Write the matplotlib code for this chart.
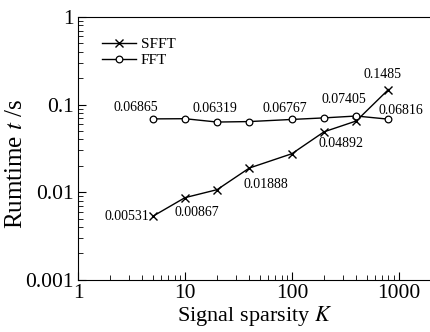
import matplotlib
matplotlib.use("Agg")
import matplotlib.pyplot as plt

plt.rcParams['font.family'] = ['Liberation Serif', 'DejaVu Serif']
plt.rcParams['mathtext.fontset'] = 'stix'

sparsity = [5, 10, 20, 40, 100, 200, 400, 800]
sfft_time = [0.00531, 0.00867, 0.0107, 0.01888, 0.0275, 0.04892, 0.0650, 0.1485]
fft_time = [0.06865, 0.0690, 0.06319, 0.0640, 0.06767, 0.0705, 0.07405, 0.06816]

# which points get a value label, and where (pixel offsets from the point)
sfft_labels = {0: (-4, 0, 'right'), 1: (12, -15, 'center'), 3: (17, -16, 'center'),
               5: (17, -12, 'center'), 7: (-6, 15, 'center')}
fft_labels = {0: (-17, 11, 'center'), 2: (-2, 14, 'center'), 4: (-7, 11, 'center'),
              6: (-12, 17, 'center'), 7: (12, 9, 'center')}

fig = plt.figure(figsize=(4.31, 3.32), dpi=100)
ax = fig.add_axes([0.181, 0.157, 0.819, 0.792])

ax.plot(sparsity, sfft_time, 'k-', marker='x', ms=6, mew=1.0, lw=1.0, label='SFFT')
ax.plot(sparsity, fft_time, 'k-', marker='o', ms=4.8, mfc='white', mew=0.9, lw=1.0, label='FFT')

ax.set_xscale('log')
ax.set_yscale('log')
ax.set_xlim(1, 2000)
ax.set_ylim(0.001, 1)
ax.set_xticks([1, 10, 100, 1000])
ax.set_xticklabels(['1', '10', '100', '1000'])
ax.set_yticks([0.001, 0.01, 0.1, 1])
ax.set_yticklabels(['0.001', '0.01', '0.1', '1'])
ax.tick_params(which='both', direction='in', top=False, right=False, labelsize=15.5, pad=3)
ax.tick_params(which='major', length=6)
ax.tick_params(which='minor', length=3.5)
ax.spines['right'].set_visible(False)

for i, (dx, dy, ha) in sfft_labels.items():
    ax.annotate(str(sfft_time[i]), (sparsity[i], sfft_time[i]), xytext=(dx, dy),
                textcoords='offset pixels', ha=ha, va='center', fontsize=10)
for i, (dx, dy, ha) in fft_labels.items():
    ax.annotate(str(fft_time[i]), (sparsity[i], fft_time[i]), xytext=(dx, dy),
                textcoords='offset pixels', ha=ha, va='center', fontsize=10)

ax.set_xlabel('Signal sparsity $K$', fontsize=16, labelpad=0.5)
ax.set_ylabel('Rumtime $t$ /s', fontsize=18)
ax.yaxis.set_label_coords(-0.145, 0.44)
ax.legend(loc='upper left', frameon=False, fontsize=11, handlelength=2.2,
          handletextpad=0.3, labelspacing=0.15, bbox_to_anchor=(0.03, 0.975))

fig.savefig('out.png', dpi=100)
